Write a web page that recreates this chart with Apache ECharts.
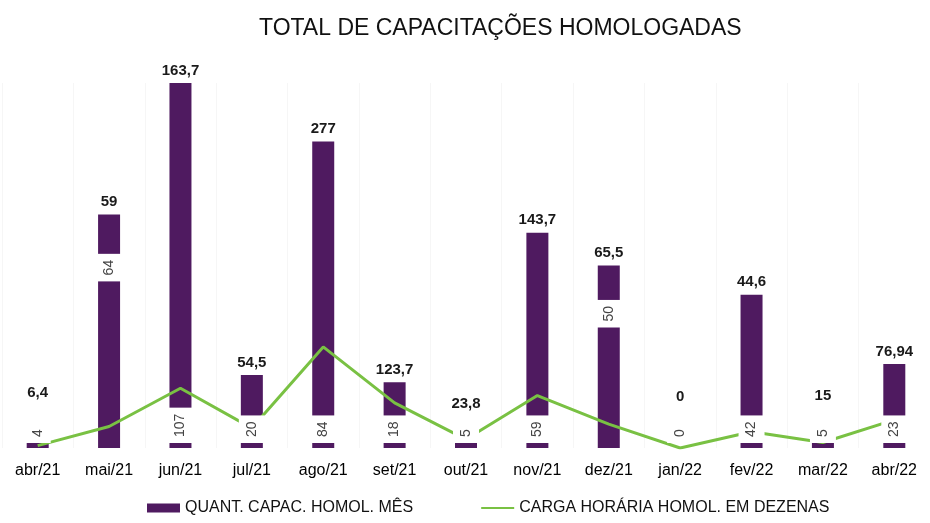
<!DOCTYPE html>
<html>
<head>
<meta charset="utf-8">
<script src="https://cdn.jsdelivr.net/npm/echarts@6/dist/echarts.min.js"></script>
<style>
    html, body { margin: 0; padding: 0; background: #fff; }
    #chart { width: 930px; height: 523px; }
</style>
</head>
<body>
<div id="chart"></div>
<script>
var meses = ['abr/21', 'mai/21', 'jun/21', 'jul/21', 'ago/21', 'set/21', 'out/21',
    'nov/21', 'dez/21', 'jan/22', 'fev/22', 'mar/22', 'abr/22'];
// quantidade de capacitações homologadas no mês
var quantidade = [4, 64, 107, 20, 84, 18, 5, 59, 50, 0, 42, 5, 23];
// carga horária homologada (rótulo) - plotada em dezenas
var cargaHoraria = [6.4, 59, 163.7, 54.5, 277, 123.7, 23.8, 143.7, 65.5, 0, 44.6, 15, 76.94];

var fmt = function (v) {
    return String(v).replace('.', ',');
};

// distância do rótulo superior em relação ao topo da barra
var distTopo = [33, 5, 5, 5, 5, 5, 18, 5, 5, 44, 5, 26, 5];

var barData = quantidade.map(function (v, i) {
    return {
        value: v,
        label: { distance: distTopo[i] }
    };
});

// rótulos internos (brancos, girados)
var innerData = quantidade.map(function (v, i) {
    var item = { value: v };
    if (i === 1) {
        item.label = { position: 'insideTop', distance: 67 };
    } else if (i === 8) {
        item.label = { position: 'insideTop', distance: 62 };
    }
    return item;
});

var linhaData = cargaHoraria.map(function (v) {
    return +(v / 10).toFixed(3);
});

var chart = echarts.init(document.getElementById('chart'));
var option = {
    animation: false,
    title: {
        text: 'TOTAL DE CAPACITAÇÕES HOMOLOGADAS',
        left: 254,
        top: 12,
        textStyle: {
            fontFamily: 'Liberation Sans, Arial, sans-serif',
            fontSize: 23,
            fontWeight: 'normal',
            color: '#111'
        }
    },
    legend: {
        bottom: 2,
        left: 142,
        itemGap: 68,
        itemWidth: 33,
        itemHeight: 9,
        textStyle: {
            fontFamily: 'Liberation Sans Narrow, Arial Narrow, Liberation Sans, sans-serif',
            fontSize: 16,
            color: '#111'
        },
        data: [
            { name: 'QUANT. CAPAC. HOMOL. MÊS', icon: 'rect' },
            { name: 'CARGA HORÁRIA HOMOL. EM DEZENAS', icon: 'path://M0,4 L34,4 L34,6 L0,6 Z' }
        ]
    },
    grid: {
        left: 2,
        right: -6,
        top: 83,
        bottom: 75
    },
    xAxis: {
        type: 'category',
        data: meses,
        axisLine: { show: false },
        axisTick: { show: false },
        splitLine: { show: true, lineStyle: { color: '#f6f6f6', width: 1 } },
        axisLabel: {
            margin: 15,
            fontFamily: 'Liberation Sans, Arial, sans-serif',
            fontSize: 16,
            color: '#000',
            interval: 0
        }
    },
    yAxis: {
        type: 'value',
        min: 0,
        max: 100,
        show: false
    },
    series: [
        {
            name: 'QUANT. CAPAC. HOMOL. MÊS',
            type: 'bar',
            barWidth: 22,
            clip: true,
            itemStyle: { color: '#4f1a60' },
            data: barData,
            label: {
                show: true,
                position: 'top',
                fontFamily: 'Liberation Sans, Arial, sans-serif',
                fontSize: 15,
                fontWeight: 'bold',
                color: '#1a1a1a',
                formatter: function (p) {
                    return fmt(cargaHoraria[p.dataIndex]);
                }
            }
        },
        {
            name: 'QUANT. CAPAC. HOMOL. MÊS',
            type: 'bar',
            barWidth: 22,
            barGap: '-100%',
            clip: true,
            itemStyle: { color: 'rgba(0,0,0,0)' },
            data: innerData,
            silent: true,
            z: 5,
            label: {
                show: true,
                position: 'insideBottom',
                distance: 5,
                rotate: 90,
                align: 'left',
                verticalAlign: 'middle',
                fontFamily: 'Liberation Sans, Arial, sans-serif',
                fontSize: 14,
                color: '#444',
                backgroundColor: '#fff',
                lineHeight: 14,
                padding: [6, 6, 6, 6],
                formatter: function (p) {
                    return p.value;
                }
            }
        },
        {
            name: 'CARGA HORÁRIA HOMOL. EM DEZENAS',
            type: 'line',
            symbol: 'none',
            z: 3,
            lineStyle: { color: '#79c143', width: 3 },
            itemStyle: { color: '#79c143' },
            data: linhaData
        }
    ]
};
chart.setOption(option);
</script>
</body>
</html>
